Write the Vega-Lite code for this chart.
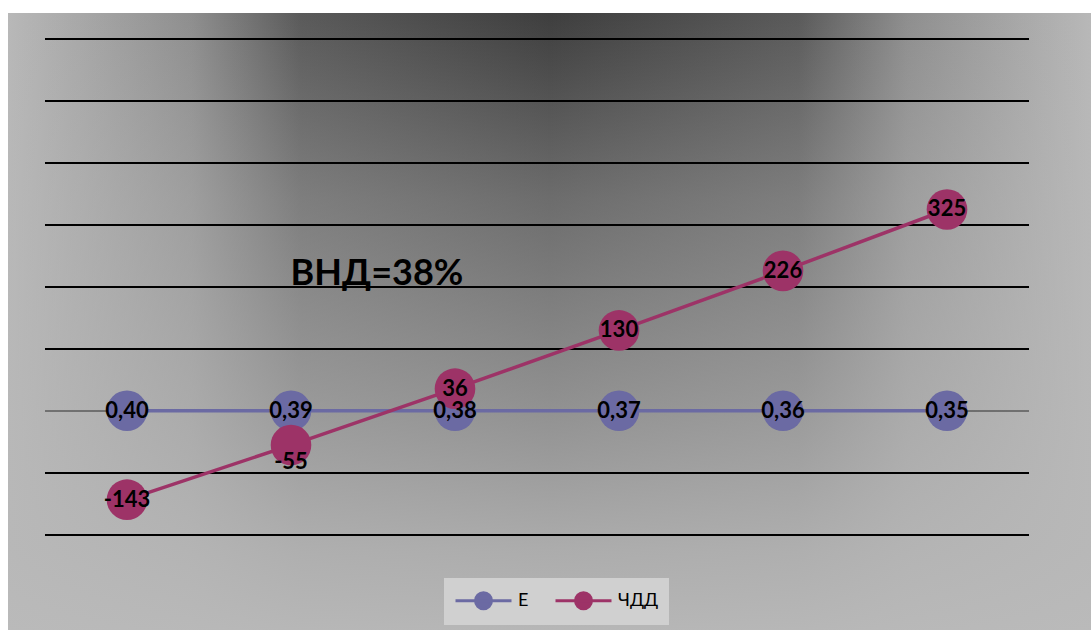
{
  "$schema": "https://vega.github.io/schema/vega-lite/v6.json",
  "width": 1083,
  "height": 617,
  "padding": {"left": 8, "top": 13, "right": 0, "bottom": 0},
  "autosize": {"type": "none"},
  "background": "white",
  "config": {
    "view": {"stroke": null},
    "locale": {"number": {"decimal": ",", "thousands": " ", "grouping": [3], "currency": ["", ""], "minus": "-"}}
  },
  "datasets": {
    "main": [
      {"i": 0, "series": "E", "value": 0.40},
      {"i": 1, "series": "E", "value": 0.39},
      {"i": 2, "series": "E", "value": 0.38},
      {"i": 3, "series": "E", "value": 0.37},
      {"i": 4, "series": "E", "value": 0.36},
      {"i": 5, "series": "E", "value": 0.35},
      {"i": 0, "series": "ЧДД", "value": -143},
      {"i": 1, "series": "ЧДД", "value": -55},
      {"i": 2, "series": "ЧДД", "value": 36},
      {"i": 3, "series": "ЧДД", "value": 130},
      {"i": 4, "series": "ЧДД", "value": 226},
      {"i": 5, "series": "ЧДД", "value": 325}
    ],
    "grid": [{"g": -200}, {"g": -100}, {"g": 100}, {"g": 200}, {"g": 300}, {"g": 400}, {"g": 500}, {"g": 600}],
    "zero": [{"g": 0}],
    "bg": [{"k": 1}]
  },
  "layer": [
    {
      "data": {"name": "bg"},
      "mark": {"type": "rect", "color": {"gradient": "linear", "x1": 0, "y1": 0, "x2": 1, "y2": 0,
        "stops": [
          {"offset": 0, "color": "#b8b8b8"},
          {"offset": 0.17, "color": "#8e8e8e"},
          {"offset": 0.27, "color": "#5a5a5a"},
          {"offset": 0.5, "color": "#3e3e3e"},
          {"offset": 0.73, "color": "#5a5a5a"},
          {"offset": 0.83, "color": "#8e8e8e"},
          {"offset": 1, "color": "#b8b8b8"}
        ]}},
      "encoding": {}
    },
    {
      "data": {"name": "bg"},
      "mark": {"type": "rect", "color": {"gradient": "linear", "x1": 0, "y1": 0, "x2": 0, "y2": 1,
        "stops": [
          {"offset": 0, "color": "rgba(184,184,184,0)"},
          {"offset": 0.3, "color": "rgba(184,184,184,0.38)"},
          {"offset": 0.64, "color": "rgba(184,184,184,0.68)"},
          {"offset": 0.87, "color": "rgba(184,184,184,0.9)"},
          {"offset": 1, "color": "rgba(186,186,186,0.97)"}
        ]}},
      "encoding": {}
    },
    {
      "data": {"name": "grid"},
      "mark": {"type": "rule", "color": "#000000", "strokeWidth": 2},
      "encoding": {
        "y": {"field": "g", "type": "quantitative", "scale": {"domain": [-353.2, 641.9], "nice": false, "zero": false}, "axis": null},
        "x": {"datum": -0.5, "type": "quantitative", "scale": {"domain": [-0.7256, 5.878], "nice": false, "zero": false}, "axis": null},
        "x2": {"datum": 5.5}
      }
    },
    {
      "data": {"name": "zero"},
      "mark": {"type": "rule", "color": "#2e2e2e", "strokeWidth": 1.2},
      "encoding": {
        "y": {"field": "g", "type": "quantitative"},
        "x": {"datum": -0.5, "type": "quantitative"},
        "x2": {"datum": 5.5}
      }
    },
    {
      "data": {"name": "main"},
      "transform": [{"filter": "datum.series === 'E'"}],
      "mark": {"type": "line", "strokeWidth": 3.5},
      "encoding": {
        "x": {"field": "i", "type": "quantitative"},
        "y": {"field": "value", "type": "quantitative"},
        "color": {"field": "series", "type": "nominal",
          "scale": {"domain": ["E", "ЧДД"], "range": ["#6b6aa3", "#9d3367"]},
          "legend": {
            "orient": "none", "legendX": 436, "legendY": 565, "direction": "horizontal",
            "title": null, "fillColor": "#d0d0d0", "padding": 10,
            "symbolType": "M-2.545,0H2.545M0.727,0A0.727,0.727,0,1,1,-0.727,0A0.727,0.727,0,1,1,0.727,0Z",
            "symbolSize": 484, "symbolOffset": 17, "symbolStrokeWidth": 3, "symbolOpacity": 1,
            "labelOffset": 22, "labelFont": "Lato", "labelFontSize": 18, "labelColor": "#000000",
            "columnPadding": 20,
            "encode": {"symbols": {"update": {"fill": {"scale": "color", "field": "value"}, "stroke": {"scale": "color", "field": "value"}}}}
          }
        }
      }
    },
    {
      "data": {"name": "main"},
      "transform": [{"filter": "datum.series === 'E'"}],
      "mark": {"type": "point", "filled": true, "size": 1650, "opacity": 1},
      "encoding": {
        "x": {"field": "i", "type": "quantitative"},
        "y": {"field": "value", "type": "quantitative"},
        "color": {"field": "series", "type": "nominal"}
      }
    },
    {
      "data": {"name": "main"},
      "transform": [{"filter": "datum.series === 'ЧДД'"}],
      "mark": {"type": "line", "strokeWidth": 3.5},
      "encoding": {
        "x": {"field": "i", "type": "quantitative"},
        "y": {"field": "value", "type": "quantitative"},
        "color": {"field": "series", "type": "nominal"}
      }
    },
    {
      "data": {"name": "main"},
      "transform": [{"filter": "datum.series === 'ЧДД'"}],
      "mark": {"type": "point", "filled": true, "size": 1650, "opacity": 1},
      "encoding": {
        "x": {"field": "i", "type": "quantitative"},
        "y": {"field": "value", "type": "quantitative"},
        "color": {"field": "series", "type": "nominal"}
      }
    },
    {
      "data": {"name": "main"},
      "transform": [{"filter": "datum.series === 'E'"}],
      "mark": {"type": "text", "font": "Lato", "fontSize": 22, "fontWeight": "bold", "color": "#000000", "baseline": "middle", "align": "center"},
      "encoding": {
        "x": {"field": "i", "type": "quantitative"},
        "y": {"datum": 0, "type": "quantitative"},
        "text": {"field": "value", "type": "quantitative", "format": ".2f"}
      }
    },
    {
      "data": {"name": "main"},
      "transform": [{"filter": "datum.series === 'ЧДД' && datum.i !== 1"}],
      "mark": {"type": "text", "font": "Lato", "fontSize": 22, "fontWeight": "bold", "color": "#000000", "baseline": "middle", "align": "center"},
      "encoding": {
        "x": {"field": "i", "type": "quantitative"},
        "y": {"field": "value", "type": "quantitative"},
        "text": {"field": "value", "type": "quantitative", "format": ".0f"}
      }
    },
    {
      "data": {"name": "main"},
      "transform": [{"filter": "datum.series === 'ЧДД' && datum.i === 1"}],
      "mark": {"type": "text", "font": "Lato", "fontSize": 22, "fontWeight": "bold", "color": "#000000", "baseline": "middle", "align": "center", "dy": 17},
      "encoding": {
        "x": {"field": "i", "type": "quantitative"},
        "y": {"field": "value", "type": "quantitative"},
        "text": {"field": "value", "type": "quantitative", "format": ".0f"}
      }
    },
    {
      "data": {"name": "bg"},
      "mark": {"type": "text", "font": "Lato", "fontSize": 36, "fontWeight": "bold", "color": "#000000", "baseline": "middle", "align": "center", "text": "ВНД=38%"},
      "encoding": {
        "x": {"datum": 1.524, "type": "quantitative"},
        "y": {"datum": 221, "type": "quantitative"}
      }
    }
  ]
}
